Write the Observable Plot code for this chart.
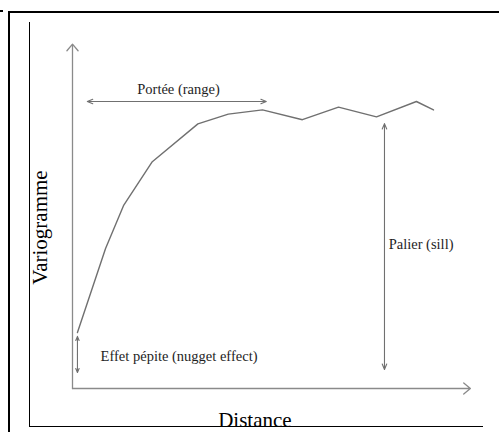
<!DOCTYPE html>
<html><head><meta charset="utf-8">
<script src="https://cdn.jsdelivr.net/npm/d3@7"></script>
<script src="https://cdn.jsdelivr.net/npm/@observablehq/plot@0.6"></script>
<style>
html,body{margin:0;padding:0;background:#fff;}
#wrap{position:relative;width:499px;height:432px;overflow:hidden;}
#chart{position:absolute;left:0;top:0;}
.outer{position:absolute;left:8px;top:11px;width:600px;height:600px;border-left:2px solid #000;border-top:2px solid #000;}
.inner{position:absolute;left:29px;top:22px;width:453px;height:404px;border-left:1.5px solid #000;border-bottom:1.5px solid #000;}
.dot{position:absolute;left:0;top:10px;width:3px;height:2px;background:#000;}
</style></head><body>
<div id="wrap"><div id="chart"></div><div class="outer"></div><div class="inner"></div><div class="dot"></div></div>
<script>
// Experimental variogram (schematic)
const distance = [0.13, 0.87, 1.35, 2.1, 3.3, 4.1, 5.0, 6.05, 7.0, 8.0, 9.05, 9.5];
const gamma    = [2.0, 5.0, 6.55, 8.1, 9.45, 9.8, 9.95, 9.6, 10.05, 9.7, 10.25, 9.95];

// Axis arrows (origin to tip)
const axisX2 = [10.47, 0];
const axisY2 = [0, 12.3];

// Double-headed annotation arrows
const annoNames = ["range", "sill", "nugget"];
const annoX1 = [0.39, 8.21, 0.13];
const annoX2 = [5.1, 8.21, 0.13];
const annoY1 = [10.25, 0.68, 0.57];
const annoY2 = [10.25, 9.46, 1.86];
const annoHead = [8, 8, 6];

// Labels
const labelText = ["Portée (range)", "Palier (sill)", "Effet pépite (nugget effect)"];
const labelX = [2.79, 8.32, 0.74];
const labelY = [10.7, 5.14, 1.14];
const labelAnchor = ["middle", "start", "start"];

const xTitle = "Distance";
const yTitle = "Variogramme";

const curve = distance.map((d, i) => ({d, g: gamma[i]}));
const axes = axisX2.map((x2, i) => ({x1: 0, y1: 0, x2, y2: axisY2[i]}));
const arrows = [];
annoNames.forEach((n, i) => {
  const mx = (annoX1[i] + annoX2[i]) / 2, my = (annoY1[i] + annoY2[i]) / 2;
  arrows.push({x1: mx, y1: my, x2: annoX1[i], y2: annoY1[i], h: annoHead[i]});
  arrows.push({x1: mx, y1: my, x2: annoX2[i], y2: annoY2[i], h: annoHead[i]});
});
const labels = labelText.map((t, i) => ({t, x: labelX[i], y: labelY[i], a: labelAnchor[i]}));

const font = "Liberation Serif, Times New Roman, serif";
const plot = Plot.plot({
  width: 499, height: 432,
  margin: 0,
  style: {background: "none", fontFamily: font},
  x: {domain: [0, 10], range: [72, 452], axis: null},
  y: {domain: [0, 10], range: [388, 108], axis: null},
  marks: [
    Plot.arrow(axes, {x1: "x1", y1: "y1", x2: "x2", y2: "y2", stroke: "#8a8a8a", strokeWidth: 1.3, headLength: 10, headAngle: 80}),
    Plot.line(curve, {x: "d", y: "g", stroke: "#707070", strokeWidth: 1.4}),
    ...[8, 6].map(h => Plot.arrow(arrows.filter(a => a.h === h), {x1: "x1", y1: "y1", x2: "x2", y2: "y2", stroke: "#707070", strokeWidth: 1.1, headLength: h, headAngle: 45})),
    ...["middle", "start"].map(a => Plot.text(labels.filter(l => l.a === a), {x: "x", y: "y", text: "t", textAnchor: a, fontSize: 14.5, fill: "#1e1e1e"})),
    Plot.text([xTitle], {x: 4.8, y: -1.15, text: d => d, fontSize: 21, fill: "#000"}),
    Plot.text([yTitle], {x: -0.855, y: 5.75, text: d => d, fontSize: 21, rotate: -90, fill: "#000"})
  ]
});
document.getElementById("chart").appendChild(plot);
</script>
</body></html>
